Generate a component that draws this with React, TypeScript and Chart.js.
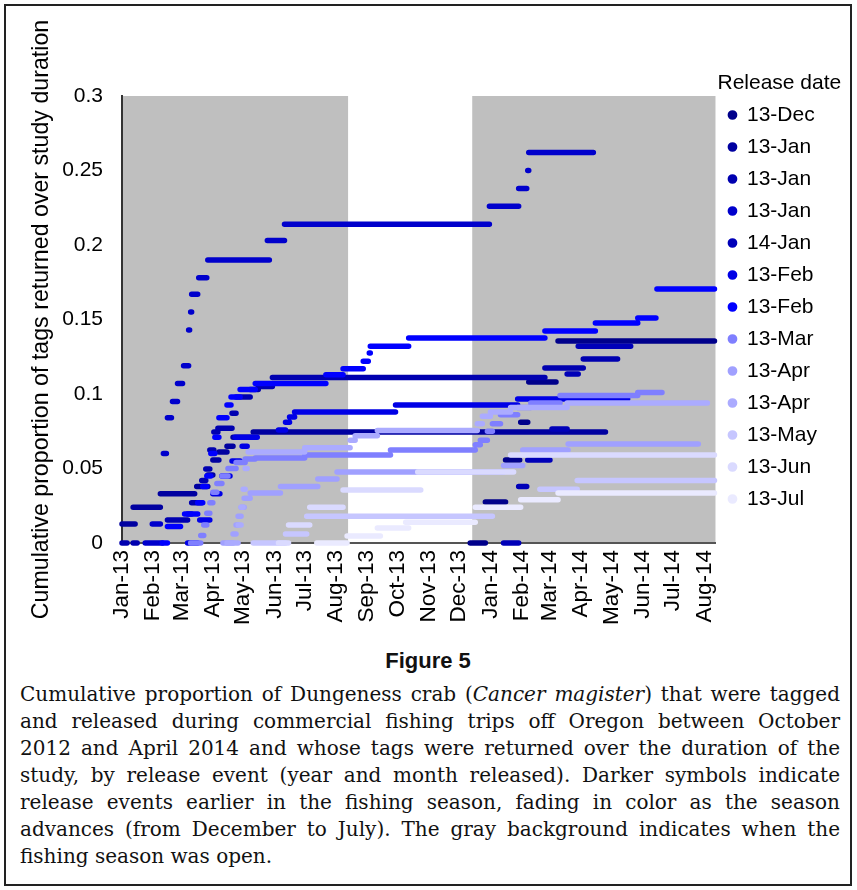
import React, { useEffect, useRef } from 'react';
import { Chart, registerables } from 'chart.js';

Chart.register(...registerables);

type Seg = [number, number, number]; // [startDay, endDay, cumulative proportion], days since 1 Jan 2013

// X axis: month starts (days since 1 Jan 2013) and their labels
const monthDays = [0, 31, 59, 90, 120, 151, 181, 212, 243, 273, 304, 334, 365, 396, 424, 455, 485, 516, 546, 577];
const monthLabels = ['Jan-13', 'Feb-13', 'Mar-13', 'Apr-13', 'May-13', 'Jun-13', 'Jul-13', 'Aug-13', 'Sep-13', 'Oct-13', 'Nov-13', 'Dec-13', 'Jan-14', 'Feb-14', 'Mar-14', 'Apr-14', 'May-14', 'Jun-14', 'Jul-14', 'Aug-14'];
const xMax = 588;

// Fishing season open periods (gray background), days since 1 Jan 2013
const seasonOpen: [number, number][] = [[0, 224], [347, 588]];

// Y axis
const yMin = 0;
const yMax = 0.3;
const yStep = 0.05;

// Series (step segments)
const dec13: Seg[] = [[345, 360, 0], [360, 380, 0.0275], [380, 394, 0.0557], [395, 402, 0.081], [403, 430, 0.108], [432, 587, 0.1356]];
const jan13a: Seg[] = [[0, 13, 0.0128], [11, 38, 0.024], [38, 72, 0.033], [74, 85, 0.038], [85, 90, 0.0456], [90, 96, 0.0557], [96, 104, 0.061], [104, 110, 0.065], [110, 128, 0.071], [130, 479, 0.0745]];
const jan13b: Seg[] = [[0, 5, 0], [11, 15, 0], [45, 65, 0.0154], [65, 69, 0.0195], [69, 79, 0.027], [79, 83, 0.042], [83, 87, 0.0497], [87, 91, 0.0624], [91, 95, 0.0745], [95, 109, 0.077], [109, 113, 0.087], [113, 127, 0.098], [127, 135, 0.103], [135, 149, 0.105], [149, 419, 0.111], [419, 457, 0.1175], [457, 491, 0.1235]];
const jan13c: Seg[] = [[23, 40, 0], [30, 38, 0.0128], [41, 44, 0.06], [45, 49, 0.084], [50, 55, 0.095], [55, 60, 0.107], [61, 66, 0.119], [66, 67, 0.143], [68, 69, 0.155], [69, 75, 0.167], [76, 84, 0.178], [85, 146, 0.19], [144, 161, 0.203], [161, 364, 0.214], [364, 393, 0.226], [393, 401, 0.238], [402, 403, 0.25], [403, 467, 0.262]];
const jan14: Seg[] = [[378, 393, 0], [393, 401, 0.038], [402, 424, 0.0557], [426, 441, 0.0765], [441, 452, 0.1134], [452, 504, 0.132]];
const feb13a: Seg[] = [[65, 75, 0], [77, 87, 0.0154], [90, 97, 0.033], [99, 107, 0.045], [109, 117, 0.055], [119, 124, 0.065], [112, 134, 0.071], [155, 162, 0.0758], [162, 166, 0.081], [166, 171, 0.0846], [171, 271, 0.088], [271, 392, 0.0926], [392, 501, 0.0966]];
const feb13b: Seg[] = [[40, 45, 0], [45, 58, 0.011], [62, 75, 0.0195], [75, 80, 0.027], [80, 84, 0.038], [84, 88, 0.045], [88, 92, 0.06], [92, 96, 0.071], [96, 104, 0.084], [104, 108, 0.0926], [108, 117, 0.098], [117, 132, 0.103], [132, 202, 0.107], [202, 219, 0.113], [219, 239, 0.117], [239, 244, 0.122], [245, 246, 0.1275], [246, 284, 0.132], [284, 419, 0.1376], [419, 469, 0.1423], [469, 511, 0.1477], [511, 529, 0.151], [530, 587, 0.1705]];
const mar13: Seg[] = [[68, 78, 0], [78, 81, 0.005], [81, 84, 0.012], [84, 87, 0.02], [87, 90, 0.027], [90, 94, 0.034], [94, 99, 0.04], [99, 105, 0.045], [105, 113, 0.05], [113, 122, 0.054], [122, 132, 0.0564], [132, 181, 0.057], [181, 266, 0.059], [266, 350, 0.0624], [350, 355, 0.066], [355, 362, 0.069], [362, 367, 0.075], [367, 375, 0.08], [375, 392, 0.086], [392, 405, 0.091], [405, 434, 0.094], [434, 511, 0.099], [511, 535, 0.101]];
const apr13a: Seg[] = [[100, 110, 0], [110, 113, 0.006], [113, 115, 0.012], [115, 118, 0.018], [118, 121, 0.024], [121, 127, 0.03], [127, 157, 0.0336], [157, 194, 0.038], [194, 213, 0.043], [213, 378, 0.0477], [378, 397, 0.052], [397, 442, 0.0624], [442, 571, 0.0664]];
const apr13b: Seg[] = [[104, 115, 0], [115, 118, 0.012], [118, 120, 0.024], [120, 122, 0.036], [122, 124, 0.05], [125, 181, 0.061], [181, 226, 0.064], [226, 231, 0.069], [231, 253, 0.072], [253, 352, 0.0755], [352, 357, 0.08], [357, 365, 0.085], [365, 385, 0.088], [385, 441, 0.091], [441, 580, 0.094]];
const may13: Seg[] = [[130, 162, 0], [162, 183, 0.006], [183, 367, 0.018], [414, 451, 0.036], [451, 587, 0.042]];
const jun13: Seg[] = [[155, 165, 0], [165, 186, 0.012], [186, 219, 0.024], [219, 296, 0.0356], [293, 388, 0.0477], [385, 587, 0.059]];
const jul13: Seg[] = [[193, 223, 0], [223, 256, 0.0047], [253, 284, 0.01], [281, 350, 0.014], [350, 395, 0.024], [395, 432, 0.029], [432, 587, 0.0336]];

const seriesLabels = ['13-Dec', '13-Jan', '13-Jan', '13-Jan', '14-Jan', '13-Feb', '13-Feb', '13-Mar', '13-Apr', '13-Apr', '13-May', '13-Jun', '13-Jul'];
const seriesData: Seg[][] = [dec13, jan13a, jan13b, jan13c, jan14, feb13a, feb13b, mar13, apr13a, apr13b, may13, jun13, jul13];
const seriesColors = ['#00008B', '#0000A0', '#0000B0', '#0000CC', '#0000B8', '#0000E6', '#0000FF', '#7F7FFF', '#A0A0FF', '#ABABFF', '#C6C6FF', '#DADAFF', '#EAEAFF'];

const captionLines = [
  'and released during commercial fishing trips off Oregon between October',
  '2012 and April 2014 and whose tags were returned over the duration of the',
  'study, by release event (year and month released). Darker symbols indicate',
  'release events earlier in the fishing season, fading in color as the season',
  'advances (from December to July). The gray background indicates when the',
];

function toPoints(segs: Seg[]) {
  const pts: { x: number; y: number | null }[] = [];
  let prevEnd = 0;
  segs.forEach(([a, b, v], i) => {
    if (i > 0) pts.push({ x: (a + prevEnd) / 2, y: null });
    pts.push({ x: a, y: v }, { x: b, y: v });
    prevEnd = b;
  });
  return pts;
}

const seasonPlugin = {
  id: 'seasonBg',
  beforeDraw(chart: any) {
    const { ctx, chartArea, scales } = chart;
    const x = scales.x;
    ctx.save();
    ctx.fillStyle = '#BFBFBF';
    seasonOpen.forEach(([a, b]) => {
      const x1 = x.getPixelForValue(a);
      const x2 = x.getPixelForValue(b);
      ctx.fillRect(x1, chartArea.top, x2 - x1, chartArea.bottom - chartArea.top);
    });
    ctx.restore();
  },
};

// nudges the legend box: a little right, wider, and taller upward so its title is not clipped
const legendShift = {
  id: 'legendShift',
  afterLayout(chart: any) {
    const l = chart.legend;
    if (l) {
      l.left += 2;
      l.right += 24;
      l.width += 22;
      l.top -= 30;
      l.height += 30;
    }
  },
};

export default function App() {
  const ref = useRef<HTMLCanvasElement | null>(null);

  useEffect(() => {
    if (!ref.current) return;
    const font = "'Liberation Sans', Arial, sans-serif";
    Chart.defaults.font.family = font;
    Chart.defaults.color = '#000';
    const chart = new Chart(ref.current, {
      type: 'line',
      data: {
        datasets: seriesData.map((segs, i) => ({
          label: seriesLabels[i],
          data: toPoints(segs) as any,
          borderColor: seriesColors[i],
          backgroundColor: seriesColors[i],
          pointBackgroundColor: seriesColors[i],
          pointBorderColor: seriesColors[i],
          borderWidth: 5.5,
          borderCapStyle: 'round',
          borderJoinStyle: 'round',
          pointRadius: 0,
          pointHoverRadius: 0,
          pointStyle: 'circle',
          fill: false,
          tension: 0,
          spanGaps: false,
          clip: false as any,
          order: -i,
        })),
      },
      options: {
        animation: false,
        responsive: false,
        events: [],
        layout: { padding: { top: 90, right: 25, bottom: 0, left: 0 } },
        plugins: {
          tooltip: { enabled: false },
          legend: {
            position: 'right',
            align: 'start',
            labels: {
              usePointStyle: true,
              pointStyle: 'circle',
              boxWidth: 8,
              boxHeight: 3,
              padding: 11,
              color: '#000',
              font: { size: 21, family: font },
              sort: (a: any, b: any) => a.datasetIndex - b.datasetIndex,
            },
            title: {
              display: true,
              text: 'Release date',
              position: 'start',
              color: '#000',
              font: { size: 21, family: font, lineHeight: 1 },
              padding: { top: 6.5, bottom: 0 } as any,
            },
          },
        },
        scales: {
          x: {
            type: 'linear',
            min: 0,
            max: xMax,
            grid: { display: false, drawTicks: false },
            border: { display: true, color: '#555', width: 2 },
            afterBuildTicks: (s: any) => {
              s.ticks = monthDays.map((v) => ({ value: v }));
            },
            afterFit: (s: any) => {
              s.height = 97;
            },
            ticks: {
              autoSkip: false,
              minRotation: 90,
              maxRotation: 90,
              padding: 7,
              color: '#000',
              font: { size: 22.5, family: font },
              callback: (v: any) => {
                const k = monthDays.indexOf(Number(v));
                return k >= 0 ? monthLabels[k] : '';
              },
            },
          },
          y: {
            type: 'linear',
            min: yMin,
            max: yMax,
            grid: { display: false, drawTicks: false },
            border: { display: true, color: '#333', width: 2 },
            afterFit: (s: any) => {
              s.width = 116;
            },
            ticks: {
              stepSize: yStep,
              padding: 19,
              color: '#000',
              font: { size: 21, family: font },
              callback: (v: any) => String(+Number(v).toFixed(2)),
            },
            title: {
              display: true,
              text: 'Cumulative proportion of tags returned over study duration',
              color: '#000',
              font: { size: 23.2, family: font },
              padding: { top: 22, bottom: 0 },
            },
          },
        },
      },
      plugins: [seasonPlugin, legendShift],
    } as any);
    return () => chart.destroy();
  }, []);

  const lineStyle: React.CSSProperties = {
    whiteSpace: 'nowrap',
    textAlign: 'justify',
    textAlignLast: 'justify' as any,
    height: 27,
  };

  return (
    <div
      style={{
        position: 'absolute',
        left: 4,
        top: 4,
        width: 844,
        height: 878,
        border: '2px solid #222',
        background: '#fff',
        overflow: 'hidden',
      }}
    >
      <canvas ref={ref} width={844} height={634} style={{ position: 'absolute', left: 0, top: 0, display: 'block' }} />
      <div
        style={{
          position: 'absolute',
          left: 0,
          width: '100%',
          top: 642,
          textAlign: 'center',
          fontFamily: "'Liberation Sans', Arial, sans-serif",
          fontWeight: 'bold',
          fontSize: 22,
          lineHeight: '26px',
          color: '#111',
        }}
      >
        Figure 5
      </div>
      <div
        style={{
          position: 'absolute',
          left: 14,
          top: 674.5,
          width: 820,
          fontFamily: "'DejaVu Serif', serif",
          fontSize: 20,
          lineHeight: '27px',
          color: '#111',
        }}
      >
        <div style={lineStyle}>
          Cumulative proportion of Dungeness crab (<i>Cancer magister</i>) that were tagged
        </div>
        {captionLines.map((t, i) => (
          <div key={i} style={lineStyle}>
            {t}
          </div>
        ))}
        <div style={{ height: 27, whiteSpace: 'nowrap' }}>fishing season was open.</div>
      </div>
    </div>
  );
}
